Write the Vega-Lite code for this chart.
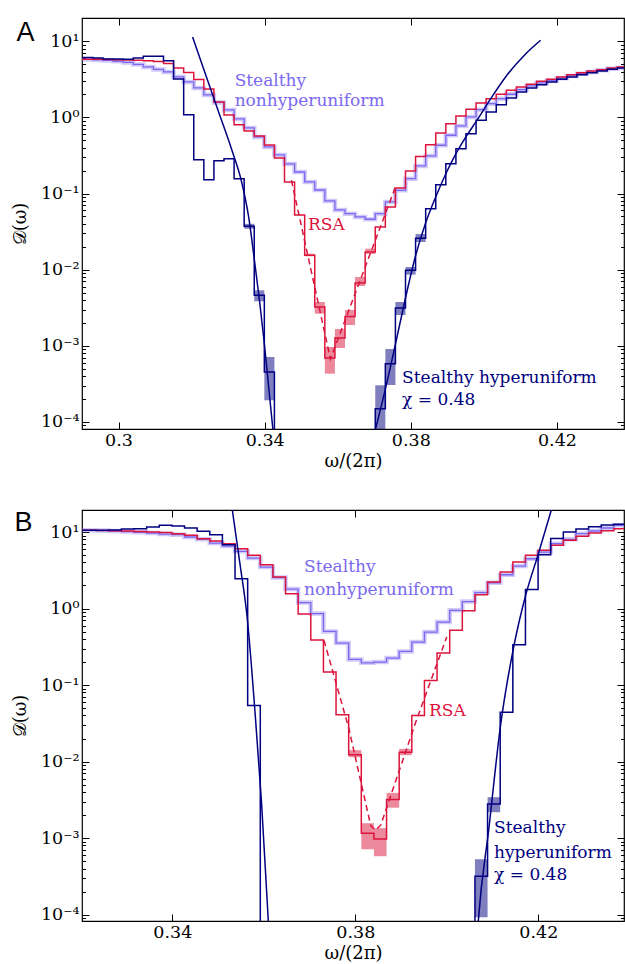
{
  "$schema": "https://vega.github.io/schema/vega-lite/v6.json",
  "padding": {"left": 10, "top": 16, "right": 0, "bottom": 0},
  "background": "white",
  "config": {
    "view": {"stroke": "black", "strokeWidth": 1.2},
    "axis": {"labelFont": "DejaVu Serif, serif", "labelFontSize": 17.5, "labelColor": "black", "tickColor": "black", "tickWidth": 1, "domain": false, "grid": false, "titleFont": "DejaVu Serif, serif", "titleFontSize": 18, "titleFontWeight": "normal", "titleColor": "black", "labelOverlap": false, "labelFlush": false}
  },
  "datasets": {
    "stepsA": [
      {"x":0.28747,"hyp":6.13,"rsa":5.855,"non":5.80},
      {"x":0.29023,"hyp":6.13,"rsa":5.82,"non":5.77},
      {"x":0.29299,"hyp":6.03,"rsa":5.785,"non":5.68},
      {"x":0.29575,"hyp":5.86,"rsa":5.75,"non":5.595},
      {"x":0.29851,"hyp":5.86,"rsa":5.715,"non":5.46},
      {"x":0.30127,"hyp":5.80,"rsa":5.68,"non":5.27},
      {"x":0.30403,"hyp":6.03,"rsa":5.63,"non":4.96},
      {"x":0.30679,"hyp":6.35,"rsa":5.56,"non":4.60},
      {"x":0.30955,"hyp":6.35,"rsa":5.43,"non":4.26},
      {"x":0.31231,"hyp":5.56,"rsa":5.11,"non":3.953},
      {"x":0.31507,"hyp":3.20,"rsa":4.46,"non":3.398},
      {"x":0.31783,"hyp":1.086,"rsa":3.89,"non":2.921},
      {"x":0.32059,"hyp":0.2786,"rsa":3.15,"non":2.436},
      {"x":0.32335,"hyp":0.1522,"rsa":2.363,"non":1.971},
      {"x":0.32611,"hyp":0.2703,"rsa":1.595,"non":1.571},
      {"x":0.32887,"hyp":0.2871,"rsa":1.077,"non":1.252},
      {"x":0.33163,"hyp":0.1568,"rsa":0.8029,"non":0.9539},
      {"x":0.33439,"hyp":0.03718,"rsa":0.6637,"non":0.7269},
      {"x":0.33715,"hyp":0.004613,"rsa":0.5706,"non":0.5535},
      {"x":0.33991,"hyp":0.0004536,"rsa":0.4345,"non":0.4091},
      {"x":0.34267,"hyp":1e-8,"rsa":0.2933,"non":0.3211},
      {"x":0.34543,"hyp":1e-8,"rsa":0.1419,"non":0.2446},
      {"x":0.34819,"hyp":1e-8,"rsa":0.05232,"non":0.1920},
      {"x":0.35095,"hyp":1e-8,"rsa":0.01547,"non":0.1419},
      {"x":0.35371,"hyp":1e-8,"rsa":0.003238,"non":0.1114},
      {"x":0.35647,"hyp":1e-8,"rsa":0.000693,"non":0.07991},
      {"x":0.35923,"hyp":1e-8,"rsa":0.001268,"non":0.06087},
      {"x":0.36199,"hyp":1e-8,"rsa":0.002430,"non":0.05441},
      {"x":0.36475,"hyp":1e-8,"rsa":0.006692,"non":0.04925},
      {"x":0.36751,"hyp":1e-8,"rsa":0.01709,"non":0.04595},
      {"x":0.37027,"hyp":0.0001495,"rsa":0.03640,"non":0.05441},
      {"x":0.37303,"hyp":0.000583,"rsa":0.06664,"non":0.07752},
      {"x":0.37579,"hyp":0.003143,"rsa":0.1184,"non":0.1104},
      {"x":0.37855,"hyp":0.009826,"rsa":0.1980,"non":0.1568},
      {"x":0.38131,"hyp":0.02594,"rsa":0.3069,"non":0.2303},
      {"x":0.38407,"hyp":0.06329,"rsa":0.4385,"non":0.3115},
      {"x":0.38683,"hyp":0.1308,"rsa":0.6245,"non":0.4305},
      {"x":0.38959,"hyp":0.2469,"rsa":0.8276,"non":0.5826},
      {"x":0.39235,"hyp":0.3886,"rsa":1.044,"non":0.7720},
      {"x":0.39511,"hyp":0.6115,"rsa":1.279,"non":1.013},
      {"x":0.39787,"hyp":0.9172,"rsa":1.548,"non":1.264},
      {"x":0.40063,"hyp":1.179,"rsa":1.763,"non":1.515},
      {"x":0.40339,"hyp":1.470,"rsa":2.013,"non":1.763},
      {"x":0.40615,"hyp":1.800,"rsa":2.272,"non":2.013},
      {"x":0.40891,"hyp":2.159,"rsa":2.511,"non":2.314},
      {"x":0.41167,"hyp":2.436,"rsa":2.725,"non":2.588},
      {"x":0.41443,"hyp":2.692,"rsa":2.983,"non":2.834},
      {"x":0.41719,"hyp":2.921,"rsa":3.169,"non":3.038},
      {"x":0.41995,"hyp":3.169,"rsa":3.398,"non":3.266},
      {"x":0.42271,"hyp":3.398,"rsa":3.641,"non":3.503},
      {"x":0.42547,"hyp":3.641,"rsa":3.869,"non":3.754},
      {"x":0.42823,"hyp":3.869,"rsa":4.074,"non":3.953},
      {"x":0.43099,"hyp":4.074,"rsa":4.236,"non":4.160},
      {"x":0.43375,"hyp":4.289,"rsa":4.461,"non":4.367},
      {"x":0.43651,"hyp":4.461,"rsa":4.598,"non":4.500},
      {"x":0.43927,"hyp":4.529,"rsa":4.739,"non":4.568}
    ],
    "bandsA": [
      {"x":0.35095,"x2":0.35371,"lo":0.0150,"hi":0.0162,"s":"rsa"},
      {"x":0.35371,"x2":0.35647,"lo":0.002644,"hi":0.003767,"s":"rsa"},
      {"x":0.35647,"x2":0.35923,"lo":0.000431,"hi":0.000966,"s":"rsa"},
      {"x":0.35923,"x2":0.36199,"lo":0.000937,"hi":0.001665,"s":"rsa"},
      {"x":0.36199,"x2":0.36475,"lo":0.001879,"hi":0.002958,"s":"rsa"},
      {"x":0.36475,"x2":0.36751,"lo":0.006113,"hi":0.008024,"s":"rsa"},
      {"x":0.36751,"x2":0.37027,"lo":0.01609,"hi":0.01888,"s":"rsa"},
      {"x":0.33439,"x2":0.33715,"lo":0.0345,"hi":0.0400,"s":"hyp"},
      {"x":0.33715,"x2":0.33991,"lo":0.003847,"hi":0.005365,"s":"hyp"},
      {"x":0.33991,"x2":0.34267,"lo":0.0001928,"hi":0.000714,"s":"hyp"},
      {"x":0.37027,"x2":0.37303,"lo":0.00005,"hi":0.0003034,"s":"hyp"},
      {"x":0.37303,"x2":0.37579,"lo":0.000306,"hi":0.000909,"s":"hyp"},
      {"x":0.37579,"x2":0.37855,"lo":0.002543,"hi":0.003767,"s":"hyp"},
      {"x":0.37855,"x2":0.38131,"lo":0.0086,"hi":0.01085,"s":"hyp"},
      {"x":0.38131,"x2":0.38407,"lo":0.0231,"hi":0.0294,"s":"hyp"}
    ],
    "fitHypA": [
      {"x":0.320274,"y":11.39,"b":"L"},
      {"x":0.323753,"y":3.754,"b":"L"},
      {"x":0.327397,"y":1.179,"b":"L"},
      {"x":0.331041,"y":0.3702,"b":"L"},
      {"x":0.333699,"y":0.1419,"b":"L"},
      {"x":0.335616,"y":0.04925,"b":"L"},
      {"x":0.337260,"y":0.01263,"b":"L"},
      {"x":0.338630,"y":0.003767,"b":"L"},
      {"x":0.339863,"y":0.001124,"b":"L"},
      {"x":0.341096,"y":0.0002882,"b":"L"},
      {"x":0.342329,"y":0.0000739,"b":"L"},
      {"x":0.370137,"y":0.0000739,"b":"R"},
      {"x":0.373068,"y":0.0002738,"b":"R"},
      {"x":0.375808,"y":0.001058,"b":"R"},
      {"x":0.378548,"y":0.004252,"b":"R"},
      {"x":0.381288,"y":0.01514,"b":"R"},
      {"x":0.384055,"y":0.04108,"b":"R"},
      {"x":0.386822,"y":0.09018,"b":"R"},
      {"x":0.389562,"y":0.1808,"b":"R"},
      {"x":0.392329,"y":0.3310,"b":"R"},
      {"x":0.395068,"y":0.5535,"b":"R"},
      {"x":0.397808,"y":0.8711,"b":"R"},
      {"x":0.401836,"y":1.747,"b":"R"},
      {"x":0.405945,"y":3.398,"b":"R"},
      {"x":0.411425,"y":6.811,"b":"R"},
      {"x":0.415534,"y":10.31,"b":"R"}
    ],
    "fitRsaA": [
      {"x":0.34732,"y":0.1494},
      {"x":0.35800,"y":0.000672},
      {"x":0.37581,"y":0.1220}
    ],
    "labelsA": [
      {"x":0.33178,"y":2.588,"t":"Stealthy","s":"non"},
      {"x":0.33178,"y":1.392,"t":"nonhyperuniform","s":"non"},
      {"x":0.35186,"y":0.03323,"t":"RSA","s":"rsa"},
      {"x":0.37762,"y":0.0003253,"t":"Stealthy hyperuniform","s":"hyp"},
      {"x":0.37762,"y":0.0001672,"t":"χ = 0.48","s":"hyp"}
    ],
    "stepsB": [
      {"x":0.31783,"hyp":10.52,"rsa":10.52,"non":10.52},
      {"x":0.32059,"hyp":10.52,"rsa":10.52,"non":10.52},
      {"x":0.32335,"hyp":10.52,"rsa":10.46,"non":10.43},
      {"x":0.32611,"hyp":10.62,"rsa":10.37,"non":10.31},
      {"x":0.32887,"hyp":10.95,"rsa":10.31,"non":10.15},
      {"x":0.33163,"hyp":11.04,"rsa":10.15,"non":9.91},
      {"x":0.33439,"hyp":11.63,"rsa":10.0,"non":9.70},
      {"x":0.33715,"hyp":12.24,"rsa":9.85,"non":9.41},
      {"x":0.33991,"hyp":11.98,"rsa":9.50,"non":9.22},
      {"x":0.34267,"hyp":11.28,"rsa":9.05,"non":8.602},
      {"x":0.34543,"hyp":10.21,"rsa":8.177,"non":8.026},
      {"x":0.34819,"hyp":9.22,"rsa":7.625,"non":7.179},
      {"x":0.35095,"hyp":6.823,"rsa":7.031,"non":6.559},
      {"x":0.35371,"hyp":2.451,"rsa":6.047,"non":5.592},
      {"x":0.35647,"hyp":0.05415,"rsa":4.959,"non":4.571},
      {"x":0.35923,"hyp":1e-8,"rsa":3.736,"non":3.485},
      {"x":0.36199,"hyp":1e-8,"rsa":2.579,"non":2.540},
      {"x":0.36475,"hyp":1e-8,"rsa":1.560,"non":1.797},
      {"x":0.36751,"hyp":1e-8,"rsa":0.8462,"non":1.197},
      {"x":0.37027,"hyp":1e-8,"rsa":0.3869,"non":0.8592},
      {"x":0.37303,"hyp":1e-8,"rsa":0.1476,"non":0.5028},
      {"x":0.37579,"hyp":1e-8,"rsa":0.04077,"non":0.3534},
      {"x":0.37855,"hyp":1e-8,"rsa":0.01223,"non":0.2163},
      {"x":0.38131,"hyp":1e-8,"rsa":0.001157,"non":0.1953},
      {"x":0.38407,"hyp":1e-8,"rsa":0.000974,"non":0.1995},
      {"x":0.38683,"hyp":1e-8,"rsa":0.003192,"non":0.2250},
      {"x":0.38959,"hyp":1e-8,"rsa":0.01327,"non":0.2753},
      {"x":0.39235,"hyp":1e-8,"rsa":0.04005,"non":0.3641},
      {"x":0.39511,"hyp":1e-8,"rsa":0.1149,"non":0.4922},
      {"x":0.39787,"hyp":1e-8,"rsa":0.2615,"non":0.6651},
      {"x":0.40063,"hyp":1e-8,"rsa":0.5182,"non":0.9461},
      {"x":0.40339,"hyp":1e-8,"rsa":0.9320,"non":1.233},
      {"x":0.40615,"hyp":0.0003169,"rsa":1.514,"non":1.617},
      {"x":0.40891,"hyp":0.002796,"rsa":2.219,"non":2.172},
      {"x":0.41167,"hyp":0.04424,"rsa":2.999,"non":2.764},
      {"x":0.41443,"hyp":0.3357,"rsa":4.052,"non":3.592},
      {"x":0.41719,"hyp":1.770,"rsa":4.959,"non":4.474},
      {"x":0.41995,"hyp":5.048,"rsa":5.764,"non":5.474},
      {"x":0.42271,"hyp":8.223,"rsa":6.700,"non":7.031},
      {"x":0.42547,"hyp":10.0,"rsa":7.787,"non":8.026},
      {"x":0.42823,"hyp":10.95,"rsa":8.785,"non":9.50},
      {"x":0.43099,"hyp":11.73,"rsa":9.702,"non":10.31},
      {"x":0.43375,"hyp":12.35,"rsa":10.40,"non":11.28},
      {"x":0.43651,"hyp":12.65,"rsa":11.04,"non":12.24},
      {"x":0.43927,"hyp":12.72,"rsa":11.28,"non":12.35}
    ],
    "bandsB": [
      {"x":0.37855,"x2":0.38131,"lo":0.01141,"hi":0.01409,"s":"rsa"},
      {"x":0.38131,"x2":0.38407,"lo":0.000714,"hi":0.001563,"s":"rsa"},
      {"x":0.38407,"x2":0.38683,"lo":0.000579,"hi":0.001345,"s":"rsa"},
      {"x":0.38683,"x2":0.38959,"lo":0.002493,"hi":0.003896,"s":"rsa"},
      {"x":0.38959,"x2":0.39235,"lo":0.01212,"hi":0.01465,"s":"rsa"},
      {"x":0.40615,"x2":0.40891,"lo":0.0000922,"hi":0.000529,"s":"hyp"},
      {"x":0.40891,"x2":0.41167,"lo":0.002177,"hi":0.00342,"s":"hyp"}
    ],
    "fitHypB": [
      {"x":0.353115,"y":19.40,"b":"L"},
      {"x":0.354798,"y":3.815,"b":"L"},
      {"x":0.356393,"y":0.7347,"b":"L"},
      {"x":0.358077,"y":0.04424,"b":"L"},
      {"x":0.359497,"y":0.002942,"b":"L"},
      {"x":0.360984,"y":0.0000825,"b":"L"},
      {"x":0.361137,"y":0.0000587,"b":"L"},
      {"x":0.406710,"y":0.0000587,"b":"R"},
      {"x":0.406885,"y":0.0000825,"b":"R"},
      {"x":0.409224,"y":0.001386,"b":"R"},
      {"x":0.411694,"y":0.02817,"b":"R"},
      {"x":0.414689,"y":0.3298,"b":"R"},
      {"x":0.417311,"y":1.546,"b":"R"},
      {"x":0.420000,"y":5.156,"b":"R"},
      {"x":0.422929,"y":20.17,"b":"R"}
    ],
    "fitRsaB": [
      {"x":0.373158,"y":0.3834},
      {"x":0.378623,"y":0.02651},
      {"x":0.383366,"y":0.001459},
      {"x":0.384415,"y":0.001266},
      {"x":0.385552,"y":0.001472},
      {"x":0.393202,"y":0.03273},
      {"x":0.399978,"y":0.4233}
    ],
    "labelsB": [
      {"x":0.36879,"y":2.999,"t":"Stealthy","s":"non"},
      {"x":0.36879,"y":1.500,"t":"nonhyperuniform","s":"non"},
      {"x":0.39611,"y":0.03923,"t":"RSA","s":"rsa"},
      {"x":0.41032,"y":0.001157,"t":"Stealthy","s":"hyp"},
      {"x":0.41032,"y":0.0005449,"t":"hyperuniform","s":"hyp"},
      {"x":0.41032,"y":0.0002809,"t":"χ = 0.48","s":"hyp"}
    ]
  },
  "vconcat": [
    {
      "width": 542, "height": 411,
      "resolve": {"axis": {"x": "independent", "y": "independent"}},
      "layer": [
        {
          "data": {"name": "bandsA"},
          "mark": {"type": "rect", "clip": true, "opacity": 0.5},
          "encoding": {
            "x": {"field": "x", "type": "quantitative", "scale": {"domain": [0.29, 0.43836], "nice": false, "zero": false}, "axis": null},
            "x2": {"field": "x2"},
            "y": {"field": "lo", "type": "quantitative", "scale": {"type": "log", "domain": [0.0000809, 20.2], "nice": false}, "axis": null},
            "y2": {"field": "hi"},
            "color": {"field": "s", "type": "nominal", "scale": {"domain": ["hyp", "rsa", "non"], "range": ["#000080", "#DC143C", "#7B68EE"]}, "legend": null}
          }
        },
        {
          "data": {"name": "stepsA"},
          "mark": {"type": "line", "interpolate": "step-after", "clip": true, "color": "#7B68EE", "strokeWidth": 4.5, "opacity": 0.35},
          "encoding": {
            "x": {"field": "x", "type": "quantitative", "scale": {"domain": [0.29, 0.43836], "nice": false, "zero": false},
                  "axis": {"orient": "top", "values": [0.3, 0.34, 0.38, 0.42], "labels": false, "tickSize": -7,
                           "title": "A", "titleX": -66, "titleY": 22, "titleAlign": "left", "titleBaseline": "alphabetic", "titleAngle": 0, "titleFont": "Liberation Sans, Arial, sans-serif", "titleFontSize": 27}},
            "y": {"field": "non", "type": "quantitative", "scale": {"type": "log", "domain": [0.0000809, 20.2], "nice": false},
                  "axis": {"orient": "right", "values": [0.00009,0.0001,0.0002,0.0003,0.0004,0.0005,0.0006,0.0007,0.0008,0.0009,0.001,0.002,0.003,0.004,0.005,0.006,0.007,0.008,0.009,0.01,0.02,0.03,0.04,0.05,0.06,0.07,0.08,0.09,0.1,0.2,0.3,0.4,0.5,0.6,0.7,0.8,0.9,1,2,3,4,5,6,7,8,9,10], "labels": false, "title": null,
                           "tickSize": {"condition": {"test": "indexof([0.0001,0.001,0.01,0.1,1,10], datum.value) >= 0", "value": -7}, "value": -3.5}}}
          }
        },
        {
          "data": {"name": "stepsA"},
          "mark": {"type": "line", "interpolate": "step-after", "clip": true, "color": "#7B68EE", "strokeWidth": 1.3},
          "encoding": {
            "x": {"field": "x", "type": "quantitative", "scale": {"domain": [0.29, 0.43836], "nice": false, "zero": false}, "axis": null},
            "y": {"field": "non", "type": "quantitative", "scale": {"type": "log", "domain": [0.0000809, 20.2], "nice": false}, "axis": null}
          }
        },
        {
          "data": {"name": "stepsA"},
          "mark": {"type": "line", "interpolate": "step-after", "clip": true, "color": "#DC143C", "strokeWidth": 1.5},
          "encoding": {
            "x": {"field": "x", "type": "quantitative", "scale": {"domain": [0.29, 0.43836], "nice": false, "zero": false}, "axis": null},
            "y": {"field": "rsa", "type": "quantitative", "scale": {"type": "log", "domain": [0.0000809, 20.2], "nice": false}, "axis": null}
          }
        },
        {
          "data": {"name": "stepsA"},
          "mark": {"type": "line", "interpolate": "step-after", "clip": true, "color": "#000080", "strokeWidth": 1.5},
          "encoding": {
            "x": {"field": "x", "type": "quantitative", "scale": {"domain": [0.29, 0.43836], "nice": false, "zero": false},
                  "axis": {"orient": "bottom", "values": [0.3, 0.34, 0.38, 0.42], "format": ".2~f", "title": "ω/(2π)", "tickSize": -7, "labelPadding": 9, "titlePadding": 4}},
            "y": {"field": "hyp", "type": "quantitative", "scale": {"type": "log", "domain": [0.0000809, 20.2], "nice": false},
                  "axis": {"orient": "left", "values": [0.00009,0.0001,0.0002,0.0003,0.0004,0.0005,0.0006,0.0007,0.0008,0.0009,0.001,0.002,0.003,0.004,0.005,0.006,0.007,0.008,0.009,0.01,0.02,0.03,0.04,0.05,0.06,0.07,0.08,0.09,0.1,0.2,0.3,0.4,0.5,0.6,0.7,0.8,0.9,1,2,3,4,5,6,7,8,9,10],
                           "labelExpr": "datum.value === 10 ? '10¹' : datum.value === 1 ? '10⁰' : datum.value === 0.1 ? '10⁻¹' : datum.value === 0.01 ? '10⁻²' : datum.value === 0.001 ? '10⁻³' : datum.value === 0.0001 ? '10⁻⁴' : ''",
                           "tickSize": {"condition": {"test": "indexof([0.0001,0.001,0.01,0.1,1,10], datum.value) >= 0", "value": -7}, "value": -3.5},
                           "labelPadding": 10, "title": "𝒟(ω)", "titleX": -62, "titleBaseline": "middle", "titleAngle": -90}}
          }
        },
        {
          "data": {"name": "fitRsaA"},
          "mark": {"type": "line", "clip": true, "color": "#DC143C", "strokeWidth": 1.5, "strokeDash": [6, 4]},
          "encoding": {
            "x": {"field": "x", "type": "quantitative", "scale": {"domain": [0.29, 0.43836], "nice": false, "zero": false}, "axis": null},
            "y": {"field": "y", "type": "quantitative", "scale": {"type": "log", "domain": [0.0000809, 20.2], "nice": false}, "axis": null}
          }
        },
        {
          "data": {"name": "fitHypA"},
          "mark": {"type": "line", "clip": true, "color": "#000080", "strokeWidth": 1.5, "interpolate": "monotone"},
          "encoding": {
            "x": {"field": "x", "type": "quantitative", "scale": {"domain": [0.29, 0.43836], "nice": false, "zero": false}, "axis": null},
            "y": {"field": "y", "type": "quantitative", "scale": {"type": "log", "domain": [0.0000809, 20.2], "nice": false}, "axis": null},
            "detail": {"field": "b"}
          }
        },
        {
          "data": {"name": "labelsA"},
          "mark": {"type": "text", "align": "left", "baseline": "alphabetic", "font": "DejaVu Serif, serif", "fontSize": 17},
          "encoding": {
            "x": {"field": "x", "type": "quantitative", "scale": {"domain": [0.29, 0.43836], "nice": false, "zero": false}, "axis": null},
            "y": {"field": "y", "type": "quantitative", "scale": {"type": "log", "domain": [0.0000809, 20.2], "nice": false}, "axis": null},
            "text": {"field": "t"},
            "color": {"field": "s", "type": "nominal", "scale": {"domain": ["hyp", "rsa", "non"], "range": ["#000080", "#DC143C", "#7B68EE"]}, "legend": null}
          }
        }
      ]
    },
    {
      "width": 542, "height": 411,
      "resolve": {"axis": {"x": "independent", "y": "independent"}},
      "layer": [
        {
          "data": {"name": "bandsB"},
          "mark": {"type": "rect", "clip": true, "opacity": 0.5},
          "encoding": {
            "x": {"field": "x", "type": "quantitative", "scale": {"domain": [0.32026, 0.43873], "nice": false, "zero": false}, "axis": null},
            "x2": {"field": "x2"},
            "y": {"field": "lo", "type": "quantitative", "scale": {"type": "log", "domain": [0.0000824, 19.4], "nice": false}, "axis": null},
            "y2": {"field": "hi"},
            "color": {"field": "s", "type": "nominal", "scale": {"domain": ["hyp", "rsa", "non"], "range": ["#000080", "#DC143C", "#7B68EE"]}, "legend": null}
          }
        },
        {
          "data": {"name": "stepsB"},
          "mark": {"type": "line", "interpolate": "step-after", "clip": true, "color": "#7B68EE", "strokeWidth": 4.5, "opacity": 0.35},
          "encoding": {
            "x": {"field": "x", "type": "quantitative", "scale": {"domain": [0.32026, 0.43873], "nice": false, "zero": false},
                  "axis": {"orient": "top", "values": [0.34, 0.38, 0.42], "labels": false, "tickSize": -7,
                           "title": "B", "titleX": -68, "titleY": 20, "titleAlign": "left", "titleBaseline": "alphabetic", "titleAngle": 0, "titleFont": "Liberation Sans, Arial, sans-serif", "titleFontSize": 27}},
            "y": {"field": "non", "type": "quantitative", "scale": {"type": "log", "domain": [0.0000824, 19.4], "nice": false},
                  "axis": {"orient": "right", "values": [0.00009,0.0001,0.0002,0.0003,0.0004,0.0005,0.0006,0.0007,0.0008,0.0009,0.001,0.002,0.003,0.004,0.005,0.006,0.007,0.008,0.009,0.01,0.02,0.03,0.04,0.05,0.06,0.07,0.08,0.09,0.1,0.2,0.3,0.4,0.5,0.6,0.7,0.8,0.9,1,2,3,4,5,6,7,8,9,10], "labels": false, "title": null,
                           "tickSize": {"condition": {"test": "indexof([0.0001,0.001,0.01,0.1,1,10], datum.value) >= 0", "value": -7}, "value": -3.5}}}
          }
        },
        {
          "data": {"name": "stepsB"},
          "mark": {"type": "line", "interpolate": "step-after", "clip": true, "color": "#7B68EE", "strokeWidth": 1.3},
          "encoding": {
            "x": {"field": "x", "type": "quantitative", "scale": {"domain": [0.32026, 0.43873], "nice": false, "zero": false}, "axis": null},
            "y": {"field": "non", "type": "quantitative", "scale": {"type": "log", "domain": [0.0000824, 19.4], "nice": false}, "axis": null}
          }
        },
        {
          "data": {"name": "stepsB"},
          "mark": {"type": "line", "interpolate": "step-after", "clip": true, "color": "#DC143C", "strokeWidth": 1.5},
          "encoding": {
            "x": {"field": "x", "type": "quantitative", "scale": {"domain": [0.32026, 0.43873], "nice": false, "zero": false}, "axis": null},
            "y": {"field": "rsa", "type": "quantitative", "scale": {"type": "log", "domain": [0.0000824, 19.4], "nice": false}, "axis": null}
          }
        },
        {
          "data": {"name": "stepsB"},
          "mark": {"type": "line", "interpolate": "step-after", "clip": true, "color": "#000080", "strokeWidth": 1.5},
          "encoding": {
            "x": {"field": "x", "type": "quantitative", "scale": {"domain": [0.32026, 0.43873], "nice": false, "zero": false},
                  "axis": {"orient": "bottom", "values": [0.34, 0.38, 0.42], "format": ".2~f", "title": "ω/(2π)", "tickSize": -7, "labelPadding": 9, "titlePadding": 4}},
            "y": {"field": "hyp", "type": "quantitative", "scale": {"type": "log", "domain": [0.0000824, 19.4], "nice": false},
                  "axis": {"orient": "left", "values": [0.00009,0.0001,0.0002,0.0003,0.0004,0.0005,0.0006,0.0007,0.0008,0.0009,0.001,0.002,0.003,0.004,0.005,0.006,0.007,0.008,0.009,0.01,0.02,0.03,0.04,0.05,0.06,0.07,0.08,0.09,0.1,0.2,0.3,0.4,0.5,0.6,0.7,0.8,0.9,1,2,3,4,5,6,7,8,9,10],
                           "labelExpr": "datum.value === 10 ? '10¹' : datum.value === 1 ? '10⁰' : datum.value === 0.1 ? '10⁻¹' : datum.value === 0.01 ? '10⁻²' : datum.value === 0.001 ? '10⁻³' : datum.value === 0.0001 ? '10⁻⁴' : ''",
                           "tickSize": {"condition": {"test": "indexof([0.0001,0.001,0.01,0.1,1,10], datum.value) >= 0", "value": -7}, "value": -3.5},
                           "labelPadding": 10, "title": "𝒟(ω)", "titleX": -62, "titleBaseline": "middle", "titleAngle": -90}}
          }
        },
        {
          "data": {"name": "fitRsaB"},
          "mark": {"type": "line", "clip": true, "color": "#DC143C", "strokeWidth": 1.5, "strokeDash": [6, 4]},
          "encoding": {
            "x": {"field": "x", "type": "quantitative", "scale": {"domain": [0.32026, 0.43873], "nice": false, "zero": false}, "axis": null},
            "y": {"field": "y", "type": "quantitative", "scale": {"type": "log", "domain": [0.0000824, 19.4], "nice": false}, "axis": null}
          }
        },
        {
          "data": {"name": "fitHypB"},
          "mark": {"type": "line", "clip": true, "color": "#000080", "strokeWidth": 1.5, "interpolate": "monotone"},
          "encoding": {
            "x": {"field": "x", "type": "quantitative", "scale": {"domain": [0.32026, 0.43873], "nice": false, "zero": false}, "axis": null},
            "y": {"field": "y", "type": "quantitative", "scale": {"type": "log", "domain": [0.0000824, 19.4], "nice": false}, "axis": null},
            "detail": {"field": "b"}
          }
        },
        {
          "data": {"name": "labelsB"},
          "mark": {"type": "text", "align": "left", "baseline": "alphabetic", "font": "DejaVu Serif, serif", "fontSize": 17},
          "encoding": {
            "x": {"field": "x", "type": "quantitative", "scale": {"domain": [0.32026, 0.43873], "nice": false, "zero": false}, "axis": null},
            "y": {"field": "y", "type": "quantitative", "scale": {"type": "log", "domain": [0.0000824, 19.4], "nice": false}, "axis": null},
            "text": {"field": "t"},
            "color": {"field": "s", "type": "nominal", "scale": {"domain": ["hyp", "rsa", "non"], "range": ["#000080", "#DC143C", "#7B68EE"]}, "legend": null}
          }
        }
      ]
    }
  ],
  "spacing": 81,
  "bounds": "flush"
}
